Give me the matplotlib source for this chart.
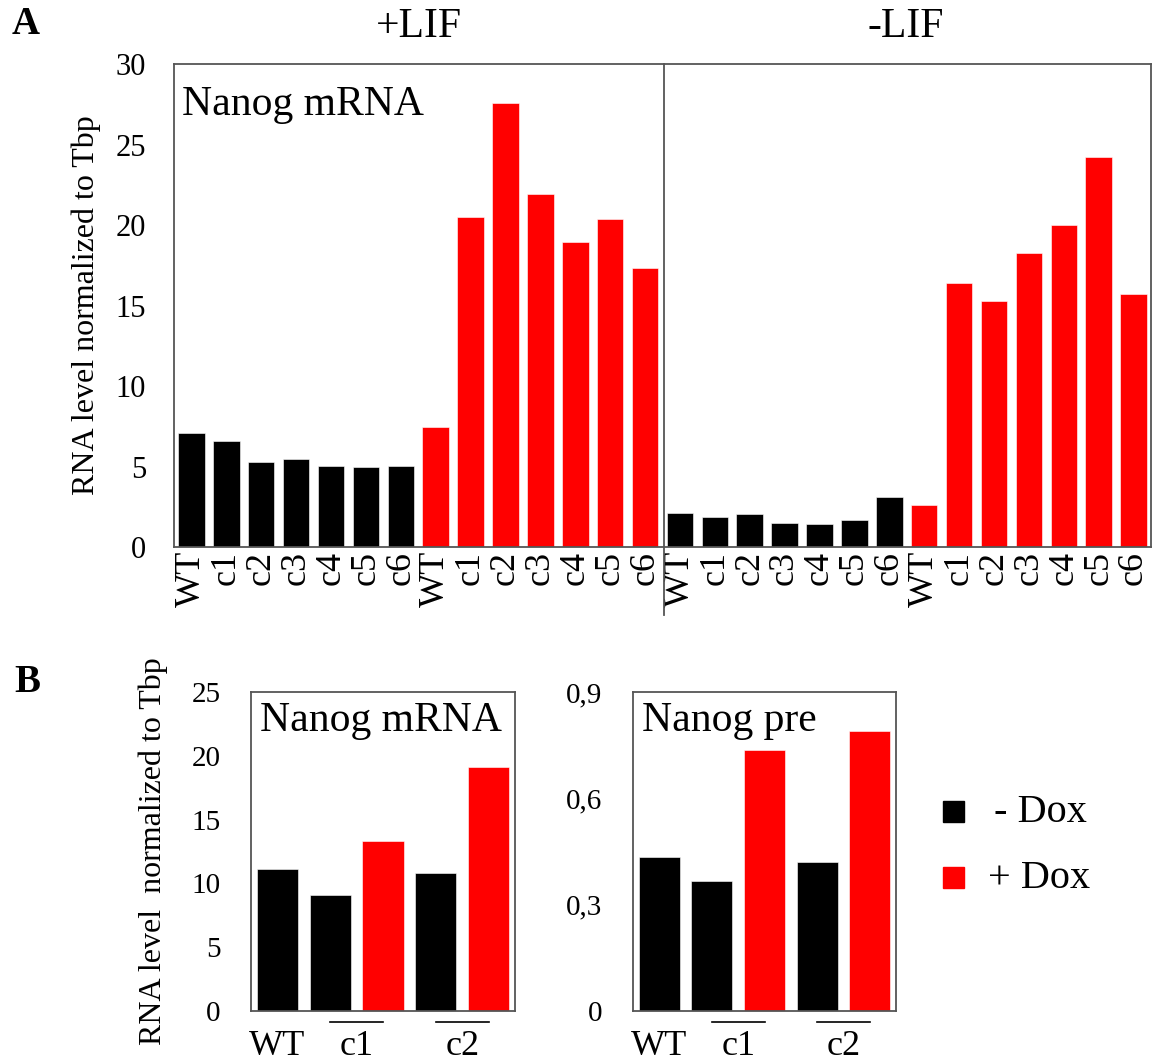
import matplotlib
matplotlib.use('Agg')
import matplotlib.pyplot as plt
from matplotlib.patches import Rectangle
from matplotlib.lines import Line2D
import numpy as np

plt.rcParams['font.family'] = ['Liberation Serif', 'DejaVu Serif']

W, H = 1153, 1062

# panel A: Nanog mRNA, 6 clones + WT, -/+ Dox, with and without LIF
clones = ['WT', 'c1', 'c2', 'c3', 'c4', 'c5', 'c6']
lif_plus_nodox = [7.1, 6.6, 5.3, 5.45, 5.05, 4.95, 5.05]
lif_plus_dox = [7.45, 20.5, 27.55, 21.9, 18.95, 20.4, 17.3]
lif_minus_nodox = [2.1, 1.85, 2.05, 1.5, 1.4, 1.65, 3.1]
lif_minus_dox = [2.6, 16.4, 15.3, 18.25, 20.0, 24.2, 15.7]
yticks_a = [0, 5, 10, 15, 20, 25, 30]

# panel B: Nanog mRNA and pre-mRNA in WT, c1, c2
b_colors = ['black', 'black', 'red', 'black', 'red']
b_mrna = [11.1, 9.1, 13.3, 10.8, 19.15]
b_pre = [0.435, 0.367, 0.736, 0.421, 0.79]
yticks_mrna = [0, 5, 10, 15, 20, 25]
yticks_pre = [0, 0.3, 0.6, 0.9]
yticklabels_pre = ['0', '0,3', '0,6', '0,9']

RED = '#ff0000'
EDGE = '#555555'


def fx(x):
    return x / W


def fy(y):
    return 1 - y / H


def box_axes(l, t, r, b):
    return fig.add_axes([fx(l), fy(b), fx(r - l), (b - t) / H])


def style(ax):
    for s in ax.spines.values():
        s.set_color(EDGE)
        s.set_linewidth(1.3)
    ax.tick_params(length=0)


fig = plt.figure(figsize=(W / 100, H / 100), dpi=100)

# ---- A ----
axA = box_axes(174, 64, 1151, 547)
vals = lif_plus_nodox + lif_plus_dox + lif_minus_nodox + lif_minus_dox
cols = (['black'] * 7 + [RED] * 7) * 2
x = np.arange(len(vals))
axA.bar(x, vals, width=0.76, color=cols, edgecolor='white', linewidth=0.4)
axA.set_xlim(-0.5, len(vals) - 0.5)
axA.set_ylim(0, 30)
axA.set_yticks(yticks_a)
axA.set_yticklabels([str(t) for t in yticks_a], fontsize=22)
axA.set_xticks(x)
axA.set_xticklabels(clones * 4, rotation=90, fontsize=26)
axA.tick_params(axis='y', pad=20)
axA.tick_params(axis='x', pad=3)
style(axA)
axA.text(0.008, 0.955, 'Nanog mRNA', transform=axA.transAxes, fontsize=30,
         ha='left', va='top')

# divider between +LIF and -LIF, running down through the tick labels
fig.add_artist(Line2D([fx(663.5), fx(663.5)], [fy(64), fy(615)],
                      color=EDGE, linewidth=1.3))
fig.text(fx(419), fy(27), '+LIF', fontsize=30, ha='center', va='center')
fig.text(fx(906), fy(27), '-LIF', fontsize=30, ha='center', va='center')
fig.text(fx(86), fy(305), 'RNA level normalized to Tbp', rotation=90,
         fontsize=23, ha='center', va='center')
fig.text(fx(12), fy(24), 'A', fontsize=28, fontweight='bold',
         ha='left', va='center')

# ---- B ----
def panel_b(ax, data, ymax, ticks, ticklabels, title):
    xb = np.arange(len(data))
    ax.bar(xb, data, width=0.78, color=[RED if c == 'red' else c for c in b_colors],
           edgecolor='white', linewidth=0.4)
    ax.set_xlim(-0.5, len(data) - 0.5)
    ax.set_ylim(0, ymax)
    ax.set_yticks(ticks)
    ax.set_yticklabels(ticklabels, fontsize=21)
    ax.tick_params(axis='y', pad=22)
    ax.set_xticks([0, 1.5, 3.5])
    ax.set_xticklabels(['WT', 'c1', 'c2'], fontsize=26)
    ax.tick_params(axis='x', pad=14)
    style(ax)
    ax.text(0.035, 0.97, title, transform=ax.transAxes, fontsize=30,
            ha='left', va='top')
    # bars over the clone names
    trans = ax.get_xaxis_transform()
    for x0 in (1, 3):
        ax.plot([x0, x0 + 1], [-0.034, -0.034], transform=trans, color='black',
                linewidth=1.2, clip_on=False)


axB1 = box_axes(251, 692, 515, 1011)
panel_b(axB1, b_mrna, 25, yticks_mrna, [str(t) for t in yticks_mrna], 'Nanog mRNA')
axB2 = box_axes(633, 692, 896, 1011)
panel_b(axB2, b_pre, 0.9, yticks_pre, yticklabels_pre, 'Nanog pre')

fig.text(fx(153), fy(851), 'RNA level  normalized to Tbp', rotation=90,
         fontsize=23, ha='center', va='center')
fig.text(fx(14), fy(683), 'B', fontsize=28, fontweight='bold',
         ha='left', va='center')

# legend
fig.add_artist(Rectangle((fx(943), fy(822)), fx(21), 21 / H, color='black'))
fig.add_artist(Rectangle((fx(943), fy(888)), fx(21), 21 / H, color=RED))
fig.text(fx(994), fy(812), '- Dox', fontsize=29, ha='left', va='center')
fig.text(fx(988), fy(878), '+ Dox', fontsize=29, ha='left', va='center')

fig.savefig('out.png', dpi=100)
